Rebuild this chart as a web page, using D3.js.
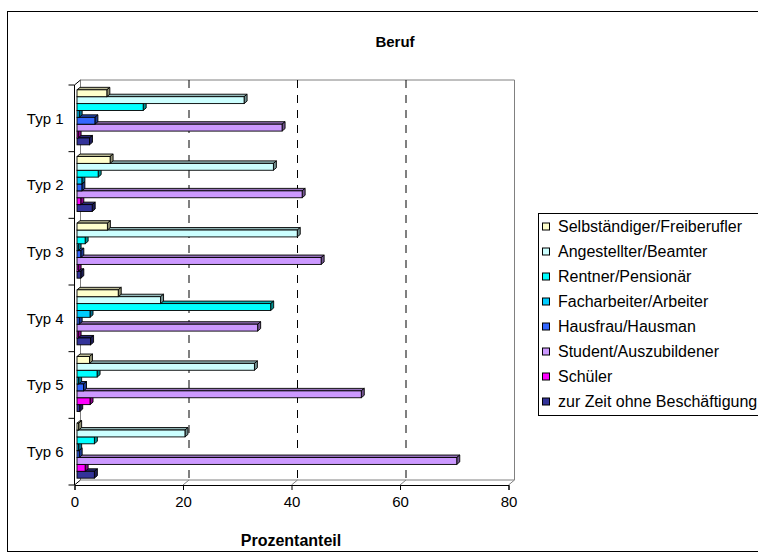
<!DOCTYPE html>
<html>
<head>
<meta charset="utf-8">
<script src="https://cdn.jsdelivr.net/npm/d3@7"></script>
<style>
  html, body { margin: 0; padding: 0; background: #fff; }
  svg { display: block; font-family: "Liberation Sans", Arial, sans-serif; }
</style>
</head>
<body>
<svg id="chart" width="758" height="558"></svg>
<script>
// ---- data ----
const categories = ["Typ 1", "Typ 2", "Typ 3", "Typ 4", "Typ 5", "Typ 6"];
const seriesNames = [
  "Selbständiger/Freiberufler",
  "Angestellter/Beamter",
  "Rentner/Pensionär",
  "Facharbeiter/Arbeiter",
  "Hausfrau/Hausman",
  "Student/Auszubildener",
  "Schüler",
  "zur Zeit ohne Beschäftigung"
];
const selbstaendiger = [5.5, 6.1, 5.6, 7.6, 2.3, 0.3];
const angestellter   = [30.8, 36.2, 40.6, 15.4, 32.7, 19.9];
const rentner        = [12.2, 3.9, 1.5, 35.7, 3.7, 3.2];
const facharbeiter   = [0.4, 0.9, 0.2, 2.4, 0.3, 0.3];
const hausfrau       = [3.3, 0.9, 0.7, 0.4, 1.2, 0.4];
const student        = [37.8, 41.5, 45.0, 33.3, 52.4, 70.0];
const schueler       = [0.2, 0.7, 0.2, 0.2, 2.4, 1.5];
const ohneBesch      = [2.3, 2.8, 0.7, 2.5, 0.5, 3.2];
const xTicks = [0, 20, 40, 60, 80];
const gridValues = [20, 40, 60];
const seriesColors = ["#FFFFCC", "#CCFFFF", "#00FFFF", "#00CCFF", "#3366FF", "#CC99FF", "#FF00FF", "#333399"];

const seriesValues = [selbstaendiger, angestellter, rentner, facharbeiter, hausfrau, student, schueler, ohneBesch];

// ---- layout ----
const svg = d3.select("#chart");
const front = { left: 74.5, right: 508.5, top: 85, bottom: 485 };
const depth = { dx: 6, dy: -5 };      // back wall offset
const barOff = { dx: 2.5, dy: -1 };   // bar front plane offset
const barDepth = { dx: 3, dy: -2.5 }; // bar thickness

const x = d3.scaleLinear().domain([0, 80]).range([front.left, front.right]);
const y = d3.scaleBand().domain(categories).range([front.top, front.bottom])
  .paddingInner(0.175).paddingOuter(0.0875);
const yFull = d3.scaleBand().domain(categories).range([front.top, front.bottom]);
const ySub = d3.scaleBand().domain(d3.range(seriesNames.length)).range([0, y.bandwidth()]);

// chart border
svg.append("rect").attr("x", 7.5).attr("y", 11.5).attr("width", 800).attr("height", 540)
  .attr("fill", "#fff").attr("stroke", "#000").attr("stroke-width", 1);

// title
svg.append("text").attr("x", 395).attr("y", 47).attr("text-anchor", "middle")
  .attr("font-size", 15).attr("font-weight", "bold").text("Beruf");

const g = svg.append("g");
const wallGray = "#808080";

// back wall edges
g.append("line").attr("x1", x(0) + depth.dx).attr("x2", x(80) + depth.dx)
  .attr("y1", front.top + depth.dy).attr("y2", front.top + depth.dy)
  .attr("stroke", wallGray);
g.append("line").attr("x1", x(80) + depth.dx).attr("x2", x(80) + depth.dx)
  .attr("y1", front.top + depth.dy).attr("y2", front.bottom + depth.dy)
  .attr("stroke", wallGray);
g.append("line").attr("x1", x(0) + depth.dx).attr("x2", x(0) + depth.dx)
  .attr("y1", front.top + depth.dy).attr("y2", front.bottom + depth.dy)
  .attr("stroke", wallGray);
g.append("line").attr("x1", x(0) + depth.dx).attr("x2", x(80) + depth.dx)
  .attr("y1", front.bottom + depth.dy).attr("y2", front.bottom + depth.dy)
  .attr("stroke", wallGray);
// left wall top diagonal
g.append("line").attr("x1", x(0)).attr("x2", x(0) + depth.dx)
  .attr("y1", front.top).attr("y2", front.top + depth.dy).attr("stroke", "#000");

// dashed gridlines on back wall
g.selectAll(".grid").data(gridValues).join("line")
  .attr("x1", d => x(d) + depth.dx).attr("x2", d => x(d) + depth.dx)
  .attr("y1", front.top + depth.dy).attr("y2", front.bottom + depth.dy)
  .attr("stroke", "#000").attr("stroke-dasharray", "8,7");

// floor diagonals
g.selectAll(".floor").data(xTicks).join("line")
  .attr("x1", d => x(d)).attr("x2", d => x(d) + depth.dx)
  .attr("y1", front.bottom).attr("y2", front.bottom + depth.dy)
  .attr("stroke", d => d === 0 ? "#000" : wallGray);

// bars
const bars = [];
categories.forEach((c, ci) => {
  seriesNames.forEach((s, si) => {
    bars.push({ c, ci, si, v: seriesValues[si][ci] });
  });
});
bars.sort((a, b) => (b.ci - a.ci) || (b.si - a.si));

const barG = g.append("g");
bars.forEach(b => {
  const x0 = x(0) + barOff.dx;
  const x1 = x(b.v) + barOff.dx;
  const y0 = y(b.c) + ySub(b.si) + barOff.dy;
  const h = ySub.bandwidth();
  const col = d3.color(seriesColors[b.si]);
  const top = col.darker(0.9).formatHex();
  const side = col.darker(1.6).formatHex();
  // top face
  barG.append("path")
    .attr("d", `M${x0},${y0}L${x0 + barDepth.dx},${y0 + barDepth.dy}L${x1 + barDepth.dx},${y0 + barDepth.dy}L${x1},${y0}Z`)
    .attr("fill", top).attr("stroke", "#000").attr("stroke-width", 0.9);
  // right face
  barG.append("path")
    .attr("d", `M${x1},${y0}L${x1 + barDepth.dx},${y0 + barDepth.dy}L${x1 + barDepth.dx},${y0 + h + barDepth.dy}L${x1},${y0 + h}Z`)
    .attr("fill", side).attr("stroke", "#000").attr("stroke-width", 0.9);
  // front face
  barG.append("rect")
    .attr("x", x0).attr("y", y0).attr("width", Math.max(0, x1 - x0)).attr("height", h)
    .attr("fill", col.formatHex()).attr("stroke", "#000").attr("stroke-width", 0.9);
});

// axes (front)
const xAxis = d3.axisBottom(x).tickValues(xTicks).tickSize(5).tickPadding(6);
const xg = svg.append("g").attr("transform", `translate(0,${front.bottom})`).call(xAxis);
xg.select(".domain").attr("stroke", "#000");
xg.selectAll("text").attr("font-size", 15).attr("font-family", "Liberation Sans, Arial, sans-serif").attr("fill", "#000");

const yAxisG = svg.append("g");
yAxisG.append("line").attr("x1", front.left).attr("x2", front.left)
  .attr("y1", front.top).attr("y2", front.bottom).attr("stroke", "#000");
const yTickVals = categories.map(c => yFull(c)).concat([front.bottom]);
yAxisG.selectAll(".ytick").data(yTickVals).join("line")
  .attr("x1", front.left - 6).attr("x2", front.left)
  .attr("y1", d => d).attr("y2", d => d).attr("stroke", "#000");
yAxisG.selectAll(".ylab").data(categories).join("text")
  .attr("x", front.left - 11).attr("y", d => yFull(d) + yFull.bandwidth() / 2)
  .attr("dy", "0.35em").attr("text-anchor", "end").attr("font-size", 15).text(d => d);

// axis title
svg.append("text").attr("x", 291).attr("y", 546).attr("text-anchor", "middle")
  .attr("font-size", 16).attr("font-weight", "bold").text("Prozentanteil");

// legend
const leg = svg.append("g");
const legTop = 213.5, legStep = 25;
leg.append("rect").attr("x", 538.5).attr("y", legTop).attr("width", 300)
  .attr("height", legStep * seriesNames.length + 2)
  .attr("fill", "#fff").attr("stroke", "#000");
const items = leg.selectAll(".item").data(seriesNames).join("g")
  .attr("transform", (d, i) => `translate(0,${legTop + 13 + i * legStep})`);
items.append("rect").attr("x", 542.5).attr("y", -3.5).attr("width", 7).attr("height", 7)
  .attr("fill", (d, i) => seriesColors[i]).attr("stroke", "#000");
items.append("text").attr("x", 558).attr("y", 0).attr("dy", "0.35em")
  .attr("font-size", 16).text(d => d);
</script>
</body>
</html>
